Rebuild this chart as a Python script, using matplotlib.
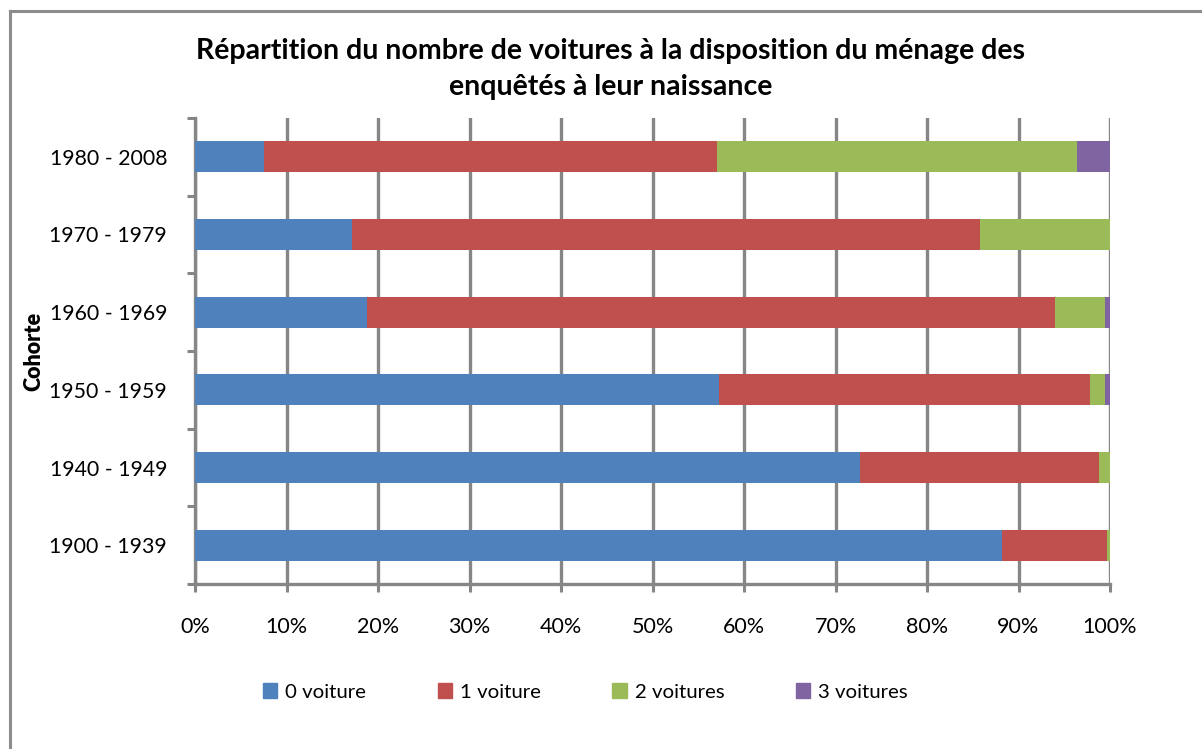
import numpy as np
import matplotlib.pyplot as plt
from matplotlib.lines import Line2D
from matplotlib.patches import Patch

plt.rcParams['font.family'] = ['Lato', 'DejaVu Sans']

cohortes = ['1900 - 1939', '1940 - 1949', '1950 - 1959', '1960 - 1969', '1970 - 1979', '1980 - 2008']
zero_voiture = [88.2, 72.7, 57.3, 18.8, 17.2, 7.5]
une_voiture = [11.5, 26.1, 40.5, 75.2, 68.6, 49.5]
deux_voitures = [0.3, 1.2, 1.7, 5.5, 14.2, 39.4]
trois_voitures = [0.0, 0.0, 0.5, 0.5, 0.0, 3.6]

series = [zero_voiture, une_voiture, deux_voitures, trois_voitures]
noms = ['0 voiture', '1 voiture', '2 voitures', '3 voitures']
couleurs = ['#4F81BD', '#C0504D', '#9BBB59', '#8064A2']
gris = '#868686'

fig = plt.figure(figsize=(12.02, 7.49), dpi=100)
ax = fig.add_axes([195/1202, 1-584/749, 915/1202, 466/749])

y = np.arange(len(cohortes))
left = np.zeros(len(cohortes))
for vals, nom, c in zip(series, noms, couleurs):
    vals = np.array(vals)
    ax.barh(y, vals, left=left, height=0.4, color=c, label=nom, zorder=3)
    left += vals

ax.set_xlim(0, 100)
ax.set_ylim(-0.5, len(cohortes) - 0.5)
ax.set_xticks(np.arange(0, 101, 10))
ax.set_xticklabels([f'{v}%' for v in range(0, 101, 10)], fontsize=15.5)
ax.set_yticks(y)
ax.set_yticklabels(cohortes, fontsize=15.3)
ax.set_yticks(np.arange(-0.5, len(cohortes)), minor=True)
ax.tick_params(axis='y', which='major', length=0, pad=20)
ax.tick_params(axis='y', which='minor', length=6, width=2.2, color=gris, direction='out')
ax.tick_params(axis='x', length=6, width=2.2, color=gris, pad=18)

ax.grid(axis='x', color=gris, linewidth=2.4, zorder=1)
for s in ['top', 'right']:
    ax.spines[s].set_visible(False)
for s in ['left', 'bottom']:
    ax.spines[s].set_color(gris)
    ax.spines[s].set_linewidth(2.4)

ax.set_ylabel('Cohorte', fontsize=15.5, fontweight='heavy')
ax.yaxis.set_label_coords(-0.165, 0.5)

fig.text(0.508, 0.908, 'Répartition du nombre de voitures à la disposition du ménage des\nenquêtés à leur naissance',
         ha='center', va='center', fontsize=20.5, fontweight='bold', linespacing=1.45)

handles = [Patch(color=c) for c in couleurs]
fig.legend(handles, noms, loc='center', bbox_to_anchor=(0.487, 0.076), ncol=4, frameon=False,
           fontsize=14.7, handlelength=0.7, handleheight=0.7, handletextpad=0.4, columnspacing=3.5)

# bordure de la zone de graphique
fig.add_artist(Line2D([10/1202, 10/1202], [0, 1-11/749], color='#8c8c8c', linewidth=2.2))
fig.add_artist(Line2D([10/1202, 1], [1-11/749, 1-11/749], color='#8c8c8c', linewidth=2.2))

fig.savefig('out.png', dpi=100)
